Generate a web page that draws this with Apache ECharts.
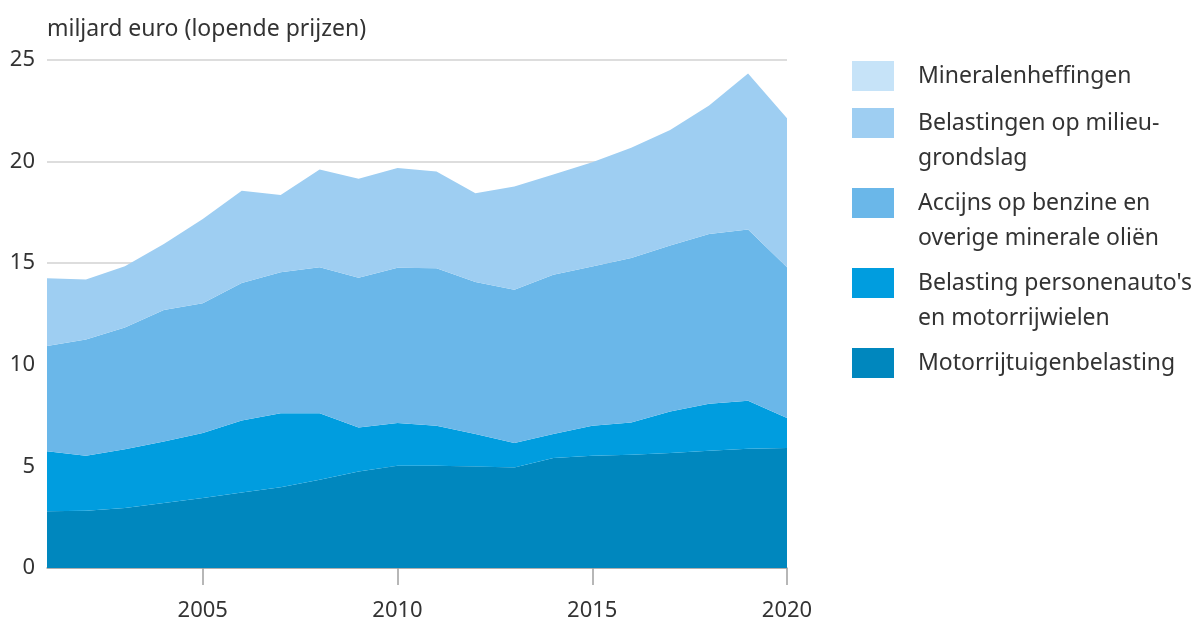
<!DOCTYPE html>
<html>
<head>
<meta charset="utf-8">
<script src="https://cdn.jsdelivr.net/npm/echarts@6/dist/echarts.min.js"></script>
<style>
html,body{margin:0;padding:0;background:#fff;}
#chart{width:1198px;height:622px;}
</style>
</head>
<body>
<div id="chart"></div>
<script>
// Data (miljard euro, lopende prijzen)
const years = ['2001','2002','2003','2004','2005','2006','2007','2008','2009','2010','2011','2012','2013','2014','2015','2016','2017','2018','2019','2020'];
const motorrijtuigenbelasting = [2.79,2.82,2.95,3.20,3.44,3.72,3.97,4.34,4.75,5.03,5.03,5.00,4.95,5.41,5.52,5.57,5.66,5.77,5.87,5.90];
const belastingPersonenautos = [2.95,2.70,2.90,3.03,3.20,3.54,3.65,3.28,2.17,2.10,1.97,1.59,1.20,1.18,1.48,1.59,2.04,2.31,2.36,1.48];
const accijnsBenzine = [5.18,5.73,5.99,6.47,6.39,6.77,6.94,7.18,7.36,7.64,7.75,7.48,7.54,7.84,7.84,8.10,8.17,8.36,8.43,7.42];
const belastingenMilieugrondslag = [3.34,2.95,3.01,3.25,4.15,4.54,3.80,4.81,4.87,4.92,4.76,4.37,5.08,4.93,5.13,5.42,5.69,6.32,7.68,7.33];
const mineralenheffingen = [0,0,0,0,0,0,0,0,0,0,0,0,0,0,0,0,0,0,0,0];
const yTicks = [0,5,10,15,20,25];
const xTickYears = ['2005','2010','2015','2020'];

const names = {
  min: 'Mineralenheffingen',
  mil: 'Belastingen op milieu-\ngrondslag',
  acc: 'Accijns op benzine en\noverige minerale oliën',
  bpm: "Belasting personenauto's\nen motorrijwielen",
  mot: 'Motorrijtuigenbelasting'
};
const colors = {
  min: '#c6e3f8',
  mil: '#9ecef2',
  acc: '#6ab7e9',
  bpm: '#009ddf',
  mot: '#0087be'
};

const FONT = 'Noto Sans';
const TXT = '#333333';
const LH = 35;

function areaSeries(key, data) {
  return {
    name: names[key],
    type: 'line',
    stack: 'total',
    data: data,
    color: colors[key],
    showSymbol: false,
    symbol: 'none',
    lineStyle: {width: 0, color: colors[key]},
    itemStyle: {color: colors[key]},
    areaStyle: {color: colors[key], opacity: 1},
    emphasis: {disabled: true}
  };
}

function legendItem(key, iconTop, lines) {
  // multi-line labels get a leading empty line so that the first line sits level with the icon
  const totalLines = lines === 1 ? 1 : 2 * lines - 1;
  const blockTop = 15 - totalLines * LH / 2;
  return {
    data: [names[key]],
    orient: 'vertical',
    left: 852,
    top: iconTop + Math.min(0, blockTop),
    padding: 0,
    itemWidth: 42,
    itemHeight: 30,
    icon: 'rect',
    selectedMode: false,
    itemStyle: {color: colors[key]},
    formatter: function (name) { return lines === 1 ? name : '\n' + name; },
    textStyle: {
      fontFamily: FONT, fontSize: 23, color: TXT, lineHeight: LH,
      padding: [0, 0, 0, 19]
    }
  };
}

const chart = echarts.init(document.getElementById('chart'), null, {renderer: 'canvas'});
chart.setOption({
  animation: false,
  backgroundColor: '#ffffff',
  title: {
    text: 'miljard euro (lopende prijzen)',
    left: 42,
    top: 13,
    textStyle: {fontFamily: FONT, fontSize: 23, fontWeight: 'normal', color: TXT}
  },
  grid: {left: 47, top: 60, width: 740, height: 508, containLabel: false},
  legend: [
    legendItem('min', 61, 1),
    legendItem('mil', 108, 2),
    legendItem('acc', 188, 2),
    legendItem('bpm', 268, 2),
    legendItem('mot', 348, 1)
  ],
  xAxis: {
    type: 'category',
    data: years,
    boundaryGap: false,
    axisLine: {show: true, lineStyle: {color: '#a0a0a0', width: 1.5}},
    axisTick: {
      show: true, length: 17,
      interval: function (i, v) { return xTickYears.indexOf(v) >= 0; },
      lineStyle: {color: '#a0a0a0', width: 1.5}
    },
    axisLabel: {
      interval: function (i, v) { return xTickYears.indexOf(v) >= 0; },
      margin: 32,
      fontFamily: FONT, fontSize: 22, color: TXT
    },
    splitLine: {show: false}
  },
  yAxis: {
    type: 'value',
    min: yTicks[0],
    max: yTicks[yTicks.length - 1],
    interval: 5,
    axisLine: {show: false},
    axisTick: {show: false},
    axisLabel: {margin: 12, fontFamily: FONT, fontSize: 22, color: TXT},
    splitLine: {show: true, lineStyle: {color: '#dddddd', width: 2}}
  },
  series: [
    areaSeries('mot', motorrijtuigenbelasting),
    areaSeries('bpm', belastingPersonenautos),
    areaSeries('acc', accijnsBenzine),
    areaSeries('mil', belastingenMilieugrondslag),
    areaSeries('min', mineralenheffingen)
  ]
});
</script>
</body>
</html>
